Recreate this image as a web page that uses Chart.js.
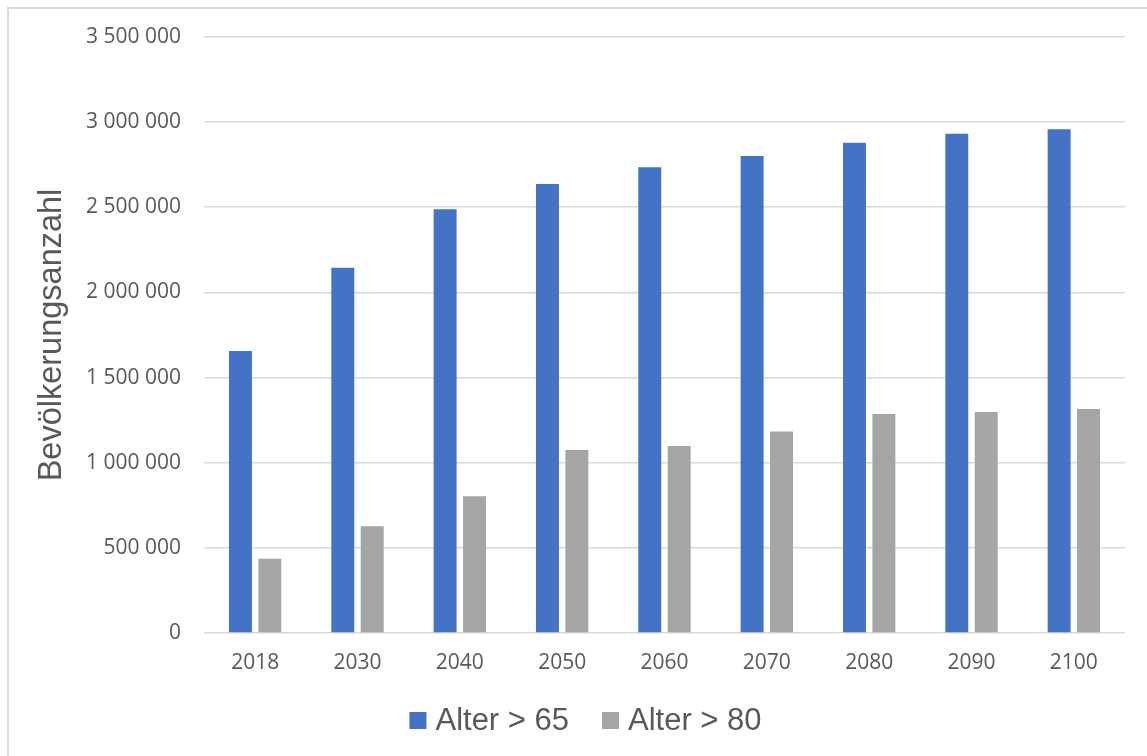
<!DOCTYPE html>
<html lang="de">
<head>
<meta charset="utf-8">
<title>Bevölkerungsanzahl nach Alter</title>
<script src="https://cdn.jsdelivr.net/npm/chart.js@4/dist/chart.umd.min.js"></script>
<style>
  html, body { margin: 0; padding: 0; background: #ffffff; }
  #wrap { position: relative; width: 1147px; height: 756px; overflow: hidden; }
  #frame { position: absolute; left: 7px; top: 7px; width: 1200px; height: 800px;
           border-left: 2px solid #d9d9d9; border-top: 2px solid #d9d9d9; pointer-events: none; }
  canvas { position: absolute; left: 0; top: 0; }
</style>
</head>
<body>
<div id="wrap">
  <canvas id="chart" width="1147" height="756"></canvas>
  <div id="frame"></div>
</div>
<script>
// Years shown on the category axis
const years = ['2018', '2030', '2040', '2050', '2060', '2070', '2080', '2090', '2100'];

// Population counts per age group
const over65 = [1656000, 2145000, 2488000, 2637000, 2735000, 2801000, 2879000, 2932000, 2958000];
const over80 = [436000, 627000, 803000, 1075000, 1098000, 1183000, 1286000, 1298000, 1315000];

const seriesNames = ['Alter > 65', 'Alter > 80'];
const seriesColors = ['#4472c4', '#a5a5a5'];

// Value axis ticks
const yTicks = [0, 500000, 1000000, 1500000, 2000000, 2500000, 3000000, 3500000];
const yAxisTitle = 'Bevölkerungsanzahl';

const textColor = '#595959';
const gridColor = '#d9d9d9';

function groupThousands(v) {
  return String(v).replace(/\B(?=(\d{3})+(?!\d))/g, ' ');
}

// Legend drawn beneath the plot: square marker followed by the series name
const bottomLegend = {
  id: 'bottomLegend',
  afterDraw(chart) {
    const ctx = chart.ctx;
    const box = 17, gapText = 9, gapItem = 33;
    ctx.save();
    ctx.font = '31px "Liberation Sans", Arial, sans-serif';
    const items = chart.data.datasets.map(ds => ({
      label: ds.label, color: ds.backgroundColor, w: ctx.measureText(ds.label).width
    }));
    let total = 0;
    items.forEach((it, i) => { total += box + gapText + it.w + (i ? gapItem : 0); });
    let x = 585.5 - total / 2;
    const baseline = 730;
    items.forEach((it, i) => {
      if (i) x += gapItem;
      ctx.fillStyle = it.color;
      ctx.fillRect(x, 712, box, box);
      x += box + gapText;
      ctx.fillStyle = textColor;
      ctx.textBaseline = 'alphabetic';
      ctx.textAlign = 'left';
      ctx.fillText(it.label, x, baseline);
      x += it.w;
    });
    ctx.restore();
  }
};

new Chart(document.getElementById('chart'), {
  type: 'bar',
  data: {
    labels: years,
    datasets: [
      { label: seriesNames[0], data: over65, backgroundColor: seriesColors[0] },
      { label: seriesNames[1], data: over80, backgroundColor: seriesColors[1] }
    ]
  },
  options: {
    responsive: false,
    animation: false,
    events: [],
    layout: { padding: { left: 0, top: 37, right: 22, bottom: 81 } },
    datasets: { bar: { categoryPercentage: 0.575, barPercentage: 0.78 } },
    plugins: {
      legend: { display: false },
      tooltip: { enabled: false }
    },
    scales: {
      x: {
        grid: { display: false, drawTicks: false },
        border: { display: false },
        ticks: {
          color: textColor,
          padding: 17,
          font: { family: '"Open Sans", sans-serif', size: 21 }
        },
        afterFit(scale) { scale.height = 42; }
      },
      y: {
        min: 0,
        max: 3500000,
        afterBuildTicks(scale) { scale.ticks = yTicks.map(v => ({ value: v })); },
        grid: { color: gridColor, lineWidth: 1.6, drawTicks: false },
        border: { display: false },
        ticks: {
          color: textColor,
          padding: 23,
          font: { family: '"Open Sans", sans-serif', size: 21 },
          callback: v => groupThousands(v)
        },
        title: {
          display: true,
          text: yAxisTitle,
          color: textColor,
          padding: { top: 33, bottom: 0 },
          font: { family: '"Liberation Sans", Arial, sans-serif', size: 32.5 }
        },
        afterFit(scale) { scale.width = 204; }
      }
    }
  },
  plugins: [bottomLegend]
});
</script>
</body>
</html>
